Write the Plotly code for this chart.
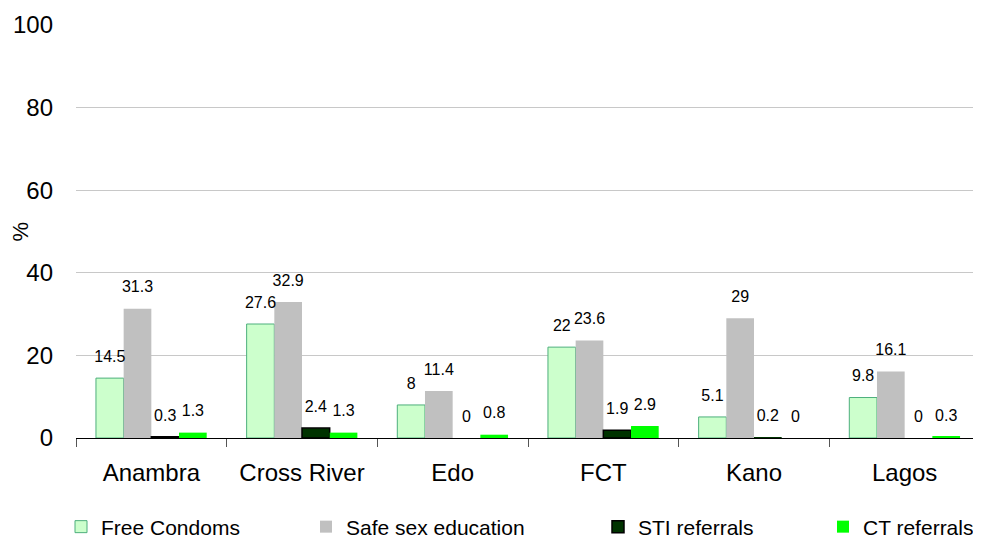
import plotly.graph_objects as go

categories = ["Anambra", "Cross River", "Edo", "FCT", "Kano", "Lagos"]
free_condoms = [14.5, 27.6, 8, 22, 5.1, 9.8]
safe_sex_education = [31.3, 32.9, 11.4, 23.6, 29, 16.1]
sti_referrals = [0.3, 2.4, 0, 1.9, 0.2, 0]
ct_referrals = [1.3, 1.3, 0.8, 2.9, 0, 0.3]
y_ticks = [0, 20, 40, 60, 80, 100]

# page is 981x538 but the html body has an 8px margin
W, H = 973, 530
FONT = "Liberation Sans, Arial, sans-serif"

series = [
    ("Free Condoms", free_condoms, "#CCFFCC", "#4DAF7C", 1, 77),
    ("Safe sex education", safe_sex_education, "#C0C0C0", "#C0C0C0", 0, 322),
    ("STI referrals", sti_referrals, "#003300", "#000000", 1.5, 614),
    ("CT referrals", ct_referrals, "#00FF00", "#00FF00", 0, 839),
]

fig = go.Figure()
layout_legends = {}
for i, (name, vals, fill, line, lw, lx) in enumerate(series):
    key = "legend" if i == 0 else f"legend{i+1}"
    fig.add_trace(go.Bar(
        x=categories, y=vals, name=name, offsetgroup=str(i),
        marker=dict(color=fill, line=dict(color=line, width=[lw if v >= 0.3 else 0 for v in vals])),
        legend=key,
    ))
    fig.add_trace(go.Scatter(
        x=categories, y=vals, offsetgroup=str(i), mode="markers+text",
        marker=dict(size=18, color="rgba(0,0,0,0)"),
        text=[f"{v:g}" for v in vals], textposition="top center",
        textfont=dict(family=FONT, size=16, color="#000000"),
        cliponaxis=False, showlegend=False, hoverinfo="skip",
    ))
    layout_legends[key] = dict(
        xref="container", yref="container",
        x=(lx - 24) / W, y=1 - 519 / H, xanchor="left", yanchor="middle",
        orientation="h", bgcolor="rgba(0,0,0,0)",
        font=dict(family=FONT, size=21, color="#000000"),
    )

fig.update_layout(
    width=W, height=H,
    margin=dict(l=68, r=1, t=17, b=100),
    paper_bgcolor="white", plot_bgcolor="white",
    barmode="group", bargap=0.265, bargroupgap=0,
    scattermode="group", scattergap=0.265,
    showlegend=True,
    font=dict(family=FONT, color="#000000"),
    annotations=[dict(
        text="%", xref="paper", yref="paper", x=0, y=0.5, xanchor="center", yanchor="middle",
        xshift=-56, textangle=-90, showarrow=False,
        font=dict(family=FONT, size=22, color="#000000"),
    )],
    **layout_legends,
)
fig.update_xaxes(
    type="category", showgrid=False, showline=True, linecolor="#000000", linewidth=1,
    ticks="outside", tickson="boundaries", ticklen=8, tickcolor="#555555",
    ticklabelstandoff=13,
    tickfont=dict(family=FONT, size=24, color="#000000"),
)
fig.update_yaxes(
    range=[0, 100], tickvals=y_ticks, showgrid=True, gridcolor="#C8C8C8", gridwidth=1,
    zeroline=False, showline=False, ticks="", ticklabelstandoff=22,
    tickfont=dict(family=FONT, size=24, color="#000000"),
)

fig.write_html("out.html")
